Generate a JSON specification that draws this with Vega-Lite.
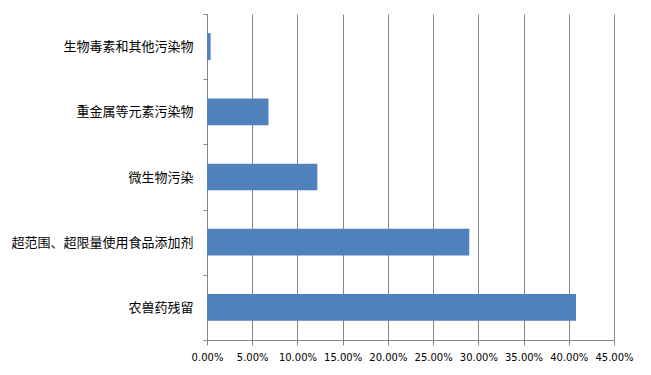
{
  "$schema": "https://vega.github.io/schema/vega-lite/v6.json",
  "autosize": "none",
  "padding": {"left": 207, "top": 14, "right": 37, "bottom": 35},
  "width": 407,
  "height": 326,
  "background": "white",
  "config": {"view": {"stroke": null}},
  "data": {
    "values": [
      {"category": "生物毒素和其他污染物", "value": 0.004},
      {"category": "重金属等元素污染物", "value": 0.068},
      {"category": "微生物污染", "value": 0.122},
      {"category": "超范围、超限量使用食品添加剂", "value": 0.29},
      {"category": "农兽药残留", "value": 0.408}
    ]
  },
  "mark": {"type": "bar", "color": "#4F81BD", "height": {"band": 0.41}},
  "encoding": {
    "y": {
      "field": "category",
      "type": "nominal",
      "sort": ["生物毒素和其他污染物", "重金属等元素污染物", "微生物污染", "超范围、超限量使用食品添加剂", "农兽药残留"],
      "scale": {"paddingInner": 0, "paddingOuter": 0},
      "axis": {
        "title": null,
        "tickBand": "extent",
        "domainColor": "#868686",
        "tickColor": "#868686",
        "tickSize": 4,
        "labelPadding": 10,
        "labelFont": "Noto Sans CJK SC",
        "labelFontSize": 13,
        "labelColor": "#000000",
        "labelLimit": 300,
        "grid": false
      }
    },
    "x": {
      "field": "value",
      "type": "quantitative",
      "scale": {"domain": [0, 0.45], "nice": false},
      "axis": {
        "title": null,
        "values": [0, 0.05, 0.1, 0.15, 0.2, 0.25, 0.3, 0.35, 0.4, 0.45],
        "format": ".2%",
        "grid": true,
        "gridColor": "#868686",
        "gridOpacity": 1,
        "domainColor": "#868686",
        "tickColor": "#868686",
        "tickSize": 5,
        "labelPadding": 7,
        "labelFont": "DejaVu Sans",
        "labelFontSize": 10,
        "labelColor": "#000000",
        "labelFlush": false,
        "labelOverlap": false
      }
    }
  }
}
